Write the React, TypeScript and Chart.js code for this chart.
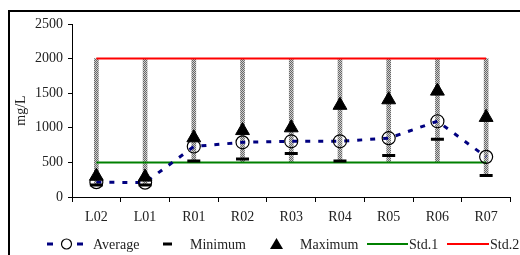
import React, { useEffect, useRef } from "react";
import { Chart, registerables } from "chart.js";

Chart.register(...registerables);

const categories = ["L02", "L01", "R01", "R02", "R03", "R04", "R05", "R06", "R07"];
const averageValues = [215, 208, 730, 790, 805, 805, 850, 1095, 580];
const minimumValues = [175, 175, 520, 550, 630, 520, 600, 835, 310];
const maximumValues = [300, 288, 855, 960, 1000, 1325, 1405, 1530, 1150];
const rangeLow = [175, 175, 500, 500, 500, 500, 500, 500, 310];
const rangeHigh = [2000, 2000, 2000, 2000, 2000, 2000, 2000, 2000, 2000];
const std1Values = [500, 500, 500, 500, 500, 500, 500, 500, 500];
const std2Values = [2000, 2000, 2000, 2000, 2000, 2000, 2000, 2000, 2000];
const yTicks = [0, 500, 1000, 1500, 2000, 2500];

const FONT = '"Liberation Serif", "Times New Roman", serif';
const TEXT = "#222";
const FS = 14;

function makePattern(): CanvasPattern | string {
  const c = document.createElement("canvas");
  c.width = 2;
  c.height = 2;
  const g = c.getContext("2d");
  if (!g) return "#999";
  g.fillStyle = "#cfcfcf";
  g.fillRect(0, 0, 2, 2);
  g.fillStyle = "#666";
  g.fillRect(0, 0, 1, 1);
  g.fillRect(1, 1, 1, 1);
  const p = g.createPattern(c, "repeat");
  return p || "#999";
}

const framePlugin = {
  id: "frame",
  afterDraw(chart: any) {
    const ctx = chart.ctx;
    ctx.save();
    ctx.fillStyle = "#000";
    ctx.fillRect(8, 10, 520, 2);
    ctx.fillRect(8, 10, 2, 250);
    ctx.restore();
  },
};

const legendPlugin = {
  id: "customLegend",
  afterDraw(chart: any) {
    const ctx = chart.ctx;
    const ds = chart.data.datasets;
    const y = 244;
    ctx.save();
    ctx.font = `${FS}px ${FONT}`;
    ctx.fillStyle = TEXT;
    ctx.textBaseline = "middle";
    ctx.textAlign = "left";
    // Average
    ctx.fillStyle = "#000080";
    ctx.fillRect(47, y - 1.5, 6, 3);
    ctx.fillRect(77, y - 1.5, 6, 3);
    ctx.strokeStyle = "#000";
    ctx.lineWidth = 1.2;
    ctx.beginPath();
    ctx.arc(66.5, y, 5, 0, Math.PI * 2);
    ctx.stroke();
    ctx.fillStyle = TEXT;
    ctx.fillText(ds[1].label, 93, y + 1);
    // Minimum
    ctx.fillStyle = "#000";
    ctx.fillRect(163, y - 1.5, 9, 3);
    ctx.fillStyle = TEXT;
    ctx.fillText(ds[2].label, 190, y + 1);
    // Maximum
    ctx.fillStyle = "#000";
    ctx.beginPath();
    ctx.moveTo(276.5, y - 6);
    ctx.lineTo(283, y + 5);
    ctx.lineTo(270, y + 5);
    ctx.closePath();
    ctx.fill();
    ctx.fillStyle = TEXT;
    ctx.fillText(ds[3].label, 300, y + 1);
    // Std.1
    ctx.fillStyle = "#008000";
    ctx.fillRect(367, y - 1, 41, 2);
    ctx.fillStyle = TEXT;
    ctx.fillText(ds[4].label, 409, y + 1);
    // Std.2
    ctx.fillStyle = "#ff0000";
    ctx.fillRect(447, y - 1, 42, 2);
    ctx.fillStyle = TEXT;
    ctx.fillText(ds[5].label, 490, y + 1);
    ctx.restore();
  },
};

export default function App() {
  const ref = useRef<HTMLCanvasElement | null>(null);

  useEffect(() => {
    if (!ref.current) return;
    const pattern = makePattern();
    const chart = new Chart(ref.current, {
      type: "bar",
      data: {
        labels: categories,
        datasets: [
          {
            type: "bar",
            label: "Range",
            data: rangeLow.map((lo, i) => [lo, rangeHigh[i]]) as any,
            backgroundColor: pattern as any,
            borderWidth: 0,
            barThickness: 4,
            order: 10,
          },
          {
            type: "line",
            label: "Average",
            data: averageValues,
            borderColor: "#000080",
            borderWidth: 3,
            borderDash: [5, 8],
            pointStyle: "circle",
            pointRadius: 6.5,
            pointBorderColor: "#000",
            pointBorderWidth: 1.2,
            pointBackgroundColor: "rgba(0,0,0,0)",
            tension: 0,
            order: 5,
          },
          {
            type: "line",
            label: "Minimum",
            data: minimumValues,
            showLine: false,
            pointStyle: "line",
            pointRadius: 6.5,
            pointBorderWidth: 3,
            pointBorderColor: "#000",
            borderColor: "#000",
            order: 3,
          },
          {
            type: "line",
            label: "Maximum",
            data: maximumValues,
            showLine: false,
            pointStyle: "triangle",
            pointRadius: 8,
            pointBackgroundColor: "#000",
            pointBorderColor: "#000",
            pointBorderWidth: 1,
            borderColor: "#000",
            order: 2,
          },
          {
            type: "line",
            label: "Std.1",
            data: std1Values,
            borderColor: "#008000",
            borderWidth: 2,
            pointRadius: 0,
            order: 8,
          },
          {
            type: "line",
            label: "Std.2",
            data: std2Values,
            borderColor: "#ff0000",
            borderWidth: 2,
            pointRadius: 0,
            order: 8,
          },
        ],
      },
      options: {
        responsive: false,
        animation: false,
        layout: { padding: { left: 8, right: 3, top: 24, bottom: 0 } },
        plugins: {
          legend: { display: false },
          tooltip: { enabled: false },
        },
        scales: {
          x: {
            offset: true,
            grid: {
              offset: true,
              drawOnChartArea: false,
              drawTicks: true,
              tickLength: 5,
              color: "#000",
            },
            border: { display: true, color: "#000", width: 1 },
            ticks: {
              color: TEXT,
              font: { family: FONT, size: FS },
              padding: 7,
              maxRotation: 0,
              autoSkip: false,
            },
            afterFit: (scale: any) => {
              scale.height = 58;
            },
          },
          y: {
            min: 0,
            max: 2500,
            afterBuildTicks: (scale: any) => {
              scale.ticks = yTicks.map((v) => ({ value: v }));
            },
            grid: {
              drawOnChartArea: false,
              drawTicks: true,
              tickLength: 4,
              color: "#000",
            },
            border: { display: true, color: "#000", width: 1 },
            ticks: {
              color: TEXT,
              font: { family: FONT, size: FS },
              padding: 5,
              callback: (v: any) => String(v),
            },
            title: {
              display: true,
              text: "mg/L",
              color: TEXT,
              font: { family: FONT, size: FS },
              padding: { top: 5, bottom: 0 },
            },
            afterFit: (scale: any) => {
              scale.width = 64;
            },
          },
        },
      },
      plugins: [framePlugin, legendPlugin],
    });
    return () => chart.destroy();
  }, []);

  return (
    <div style={{ position: "fixed", left: 0, top: 0, width: 520, height: 255, overflow: "hidden", background: "#fff" }}>
      <canvas ref={ref} width={520} height={255} style={{ display: "block", width: 520, height: 255 }} />
    </div>
  );
}
